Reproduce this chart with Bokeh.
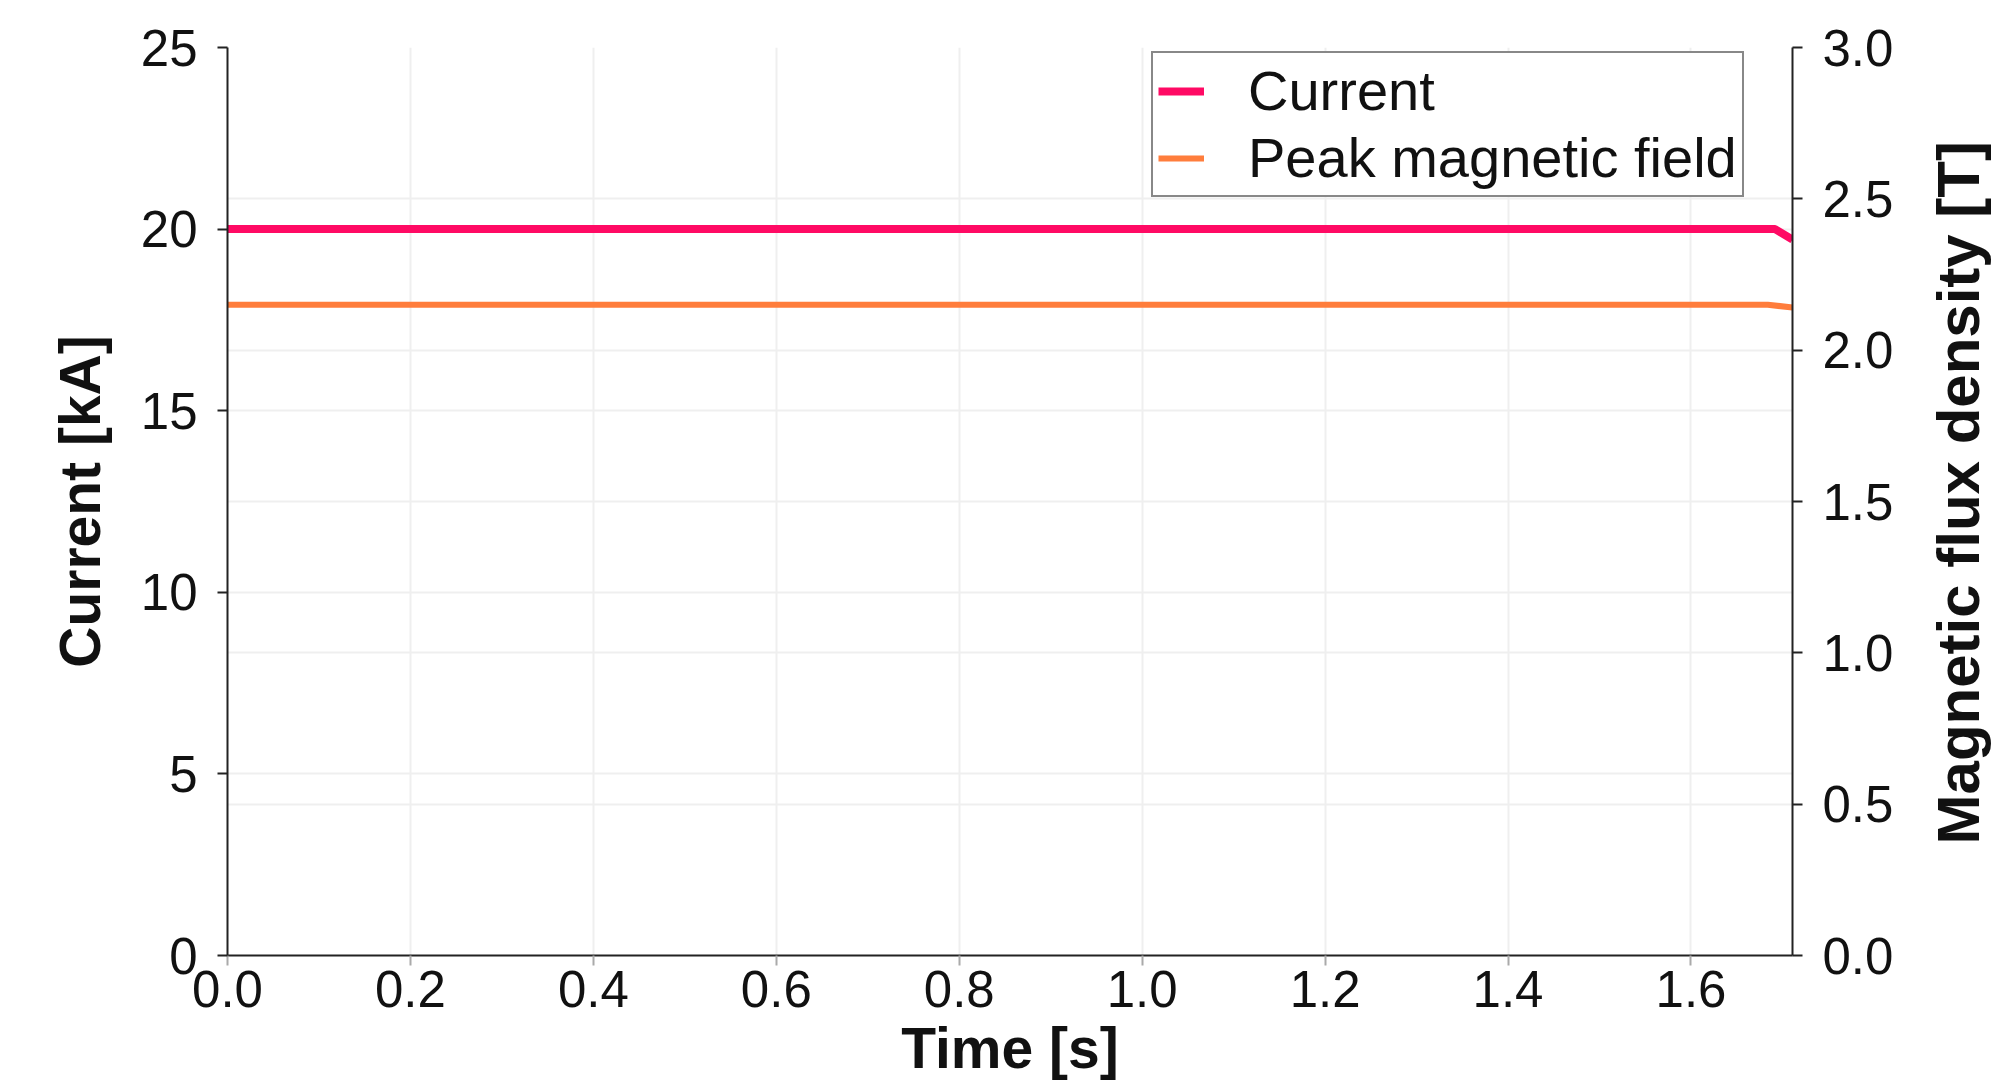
import math
from bokeh.plotting import figure
from bokeh.layouts import row
from bokeh.core.properties import value
from bokeh.models import (LinearAxis, Range1d, FixedTicker, PrintfTickFormatter,
                          Grid, Legend, LegendItem)
from bokeh.embed import file_html
from bokeh.resources import INLINE

# ---- data ----
t_current = [0.0, 1.692, 1.711]
current_kA = [20.0, 20.0, 19.71]
t_field = [0.0, 1.684, 1.711]
peak_field_T = [2.15, 2.15, 2.141]

x_ticks = [0.0, 0.2, 0.4, 0.6, 0.8, 1.0, 1.2, 1.4, 1.6]
left_ticks = [0, 5, 10, 15, 20, 25]
right_ticks = [0.0, 0.5, 1.0, 1.5, 2.0, 2.5, 3.0]

x_max = 1.711
left_max = 25
right_max = 3.0

right_title = "Magnetic flux density [T]"

FONT = "Liberation Sans"
PINK = "#ff0a64"
ORANGE = "#ff7d3c"

MAIN_W = 1930
H = 1087

p = figure(width=MAIN_W, height=H, output_backend="svg", toolbar_location=None,
           x_range=Range1d(0, x_max), y_range=Range1d(0, left_max),
           min_border_left=227, min_border_right=MAIN_W - 1792, min_border_top=47,
           min_border_bottom=132)
p.extra_y_ranges = {"B": Range1d(0, right_max)}
p.outline_line_color = None
p.background_fill_color = "white"
p.border_fill_color = "white"

r1 = p.line(t_current, current_kA, line_color=PINK, line_width=8)
r2 = p.line(t_field, peak_field_T, line_color=ORANGE, line_width=6, y_range_name="B")

right = LinearAxis(y_range_name="B")
p.add_layout(right, "right")

def style_axis(ax, ticks, fmt, tick_color, label):
    ax.ticker = FixedTicker(ticks=ticks)
    if fmt:
        ax.formatter = PrintfTickFormatter(format=fmt)
    ax.axis_line_color = "#222222"
    ax.axis_line_width = 2
    ax.major_tick_line_color = tick_color
    ax.major_tick_line_width = 2
    ax.major_tick_out = 10
    ax.major_tick_in = 0
    ax.minor_tick_line_color = None
    ax.major_label_text_font = FONT
    ax.major_label_text_font_size = "51px"
    ax.major_label_text_color = "#111111"
    if label:
        ax.axis_label = label
    ax.axis_label_text_font = FONT
    ax.axis_label_text_font_size = "57px"
    ax.axis_label_text_font_style = "bold"
    ax.axis_label_text_color = "#111111"

style_axis(p.xaxis[0], x_ticks, "%.1f", "#aaaaaa", "Time [s]")
p.xaxis[0].major_label_standoff = 5
p.xaxis[0].axis_label_standoff = 6
style_axis(p.yaxis[0], left_ticks, None, "#222222", "Current [kA]")
p.yaxis[0].major_label_standoff = 20
p.yaxis[0].axis_label_standoff = 26
style_axis(right, right_ticks, "%.1f", "#222222", None)
right.major_label_standoff = 20

p.xgrid.ticker = FixedTicker(ticks=x_ticks)
p.ygrid.ticker = FixedTicker(ticks=left_ticks)
for g in (p.xgrid[0], p.ygrid[0]):
    g.grid_line_color = "#efefef"
    g.grid_line_width = 2
g2 = Grid(dimension=1, ticker=FixedTicker(ticks=right_ticks), y_range_name="B",
          grid_line_color="#efefef", grid_line_width=2)
p.add_layout(g2)

legend = Legend(items=[LegendItem(label="Current", renderers=[r1]),
                       LegendItem(label="Peak magnetic field", renderers=[r2])],
                location=(924, 758))
legend.label_text_font = FONT
legend.label_text_font_size = "56px"
legend.label_text_color = "#111111"
legend.border_line_color = "#111111"
legend.border_line_width = 2
legend.padding = 5
legend.spacing = 2
legend.margin = 0
legend.glyph_width = 46
legend.glyph_height = 56
legend.label_height = 56
legend.label_standoff = 44
legend.background_fill_alpha = 1.0
p.add_layout(legend)

# narrow strip on the right holding the right-axis title (reads bottom-to-top)
LAB_W = 2003 - MAIN_W
q = figure(width=LAB_W, height=H, output_backend="svg", toolbar_location=None,
           x_range=Range1d(0, LAB_W), y_range=Range1d(0, H),
           x_axis_type=None, y_axis_type=None,
           min_border_left=0, min_border_right=0, min_border_top=0, min_border_bottom=0)
q.grid.visible = False
q.outline_line_color = None
q.border_fill_color = "white"
q.text(x=[28], y=[554], text=[right_title], angle=math.pi / 2,
       text_align="center", text_baseline="alphabetic",
       text_font=value(FONT), text_font_style="bold", text_font_size="60px",
       text_color="#111111")

layout = row(p, q, spacing=0)
open("out.html", "w").write(file_html(layout, INLINE))
